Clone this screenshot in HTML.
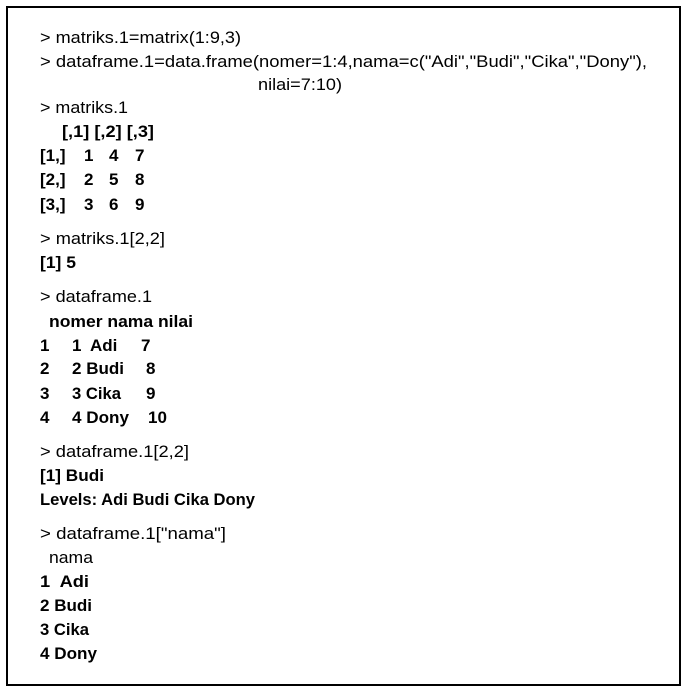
<!DOCTYPE html>
<html><head><meta charset="utf-8"><style>
html,body{margin:0;padding:0;background:#fff;}
svg{display:block;}
text{font-family:"Liberation Sans",sans-serif;font-size:17px;fill:#000;}
.b{font-weight:bold;}
</style></head><body>
<svg width="688" height="693" viewBox="0 0 688 693">
<rect x="7" y="7" width="673" height="678" fill="none" stroke="#000" stroke-width="2"/>
<g lengthAdjust="spacingAndGlyphs">
<text x="40" y="43" textLength="201" lengthAdjust="spacingAndGlyphs">&gt; matriks.1=matrix(1:9,3)</text>
<text x="40" y="67" textLength="607" lengthAdjust="spacingAndGlyphs">&gt; dataframe.1=data.frame(nomer=1:4,nama=c("Adi","Budi","Cika","Dony"),</text>
<text x="258" y="90" textLength="84" lengthAdjust="spacingAndGlyphs">nilai=7:10)</text>
<text x="40" y="113" textLength="88" lengthAdjust="spacingAndGlyphs">&gt; matriks.1</text>
<text class="b" x="62" y="137" textLength="92" lengthAdjust="spacingAndGlyphs">[,1] [,2] [,3]</text>
<text class="b" x="40" y="161">[1,]</text><text class="b" x="84" y="161">1</text><text class="b" x="109" y="161">4</text><text class="b" x="135" y="161">7</text>
<text class="b" x="40" y="185">[2,]</text><text class="b" x="84" y="185">2</text><text class="b" x="109" y="185">5</text><text class="b" x="135" y="185">8</text>
<text class="b" x="40" y="210">[3,]</text><text class="b" x="84" y="210">3</text><text class="b" x="109" y="210">6</text><text class="b" x="135" y="210">9</text>
<text x="40" y="244" textLength="125" lengthAdjust="spacingAndGlyphs">&gt; matriks.1[2,2]</text>
<text class="b" x="40" y="268" textLength="36" lengthAdjust="spacingAndGlyphs">[1] 5</text>
<text x="40" y="302" textLength="112" lengthAdjust="spacingAndGlyphs">&gt; dataframe.1</text>
<text class="b" x="49" y="327" textLength="144" lengthAdjust="spacingAndGlyphs">nomer nama nilai</text>
<text class="b" x="40" y="351">1</text><text class="b" x="72" y="351">1</text><text class="b" x="90" y="351">Adi</text><text class="b" x="141" y="351">7</text>
<text class="b" x="40" y="374">2</text><text class="b" x="72" y="374" textLength="52" lengthAdjust="spacingAndGlyphs">2 Budi</text><text class="b" x="146" y="374">8</text>
<text class="b" x="40" y="399">3</text><text class="b" x="72" y="399" textLength="49" lengthAdjust="spacingAndGlyphs">3 Cika</text><text class="b" x="146" y="399">9</text>
<text class="b" x="40" y="423">4</text><text class="b" x="72" y="423" textLength="57" lengthAdjust="spacingAndGlyphs">4 Dony</text><text class="b" x="148" y="423">10</text>
<text x="40" y="457" textLength="149" lengthAdjust="spacingAndGlyphs">&gt; dataframe.1[2,2]</text>
<text class="b" x="40" y="481" textLength="64" lengthAdjust="spacingAndGlyphs">[1] Budi</text>
<text class="b" x="40" y="505" textLength="215" lengthAdjust="spacingAndGlyphs">Levels: Adi Budi Cika Dony</text>
<text x="40" y="539" textLength="186" lengthAdjust="spacingAndGlyphs">&gt; dataframe.1["nama"]</text>
<text x="49" y="563" textLength="44" lengthAdjust="spacingAndGlyphs">nama</text>
<text class="b" x="40" y="587" textLength="49" lengthAdjust="spacingAndGlyphs">1&#160; Adi</text>
<text class="b" x="40" y="611" textLength="52" lengthAdjust="spacingAndGlyphs">2 Budi</text>
<text class="b" x="40" y="635" textLength="49" lengthAdjust="spacingAndGlyphs">3 Cika</text>
<text class="b" x="40" y="659" textLength="57" lengthAdjust="spacingAndGlyphs">4 Dony</text>
</g>
</svg>
</body></html>
